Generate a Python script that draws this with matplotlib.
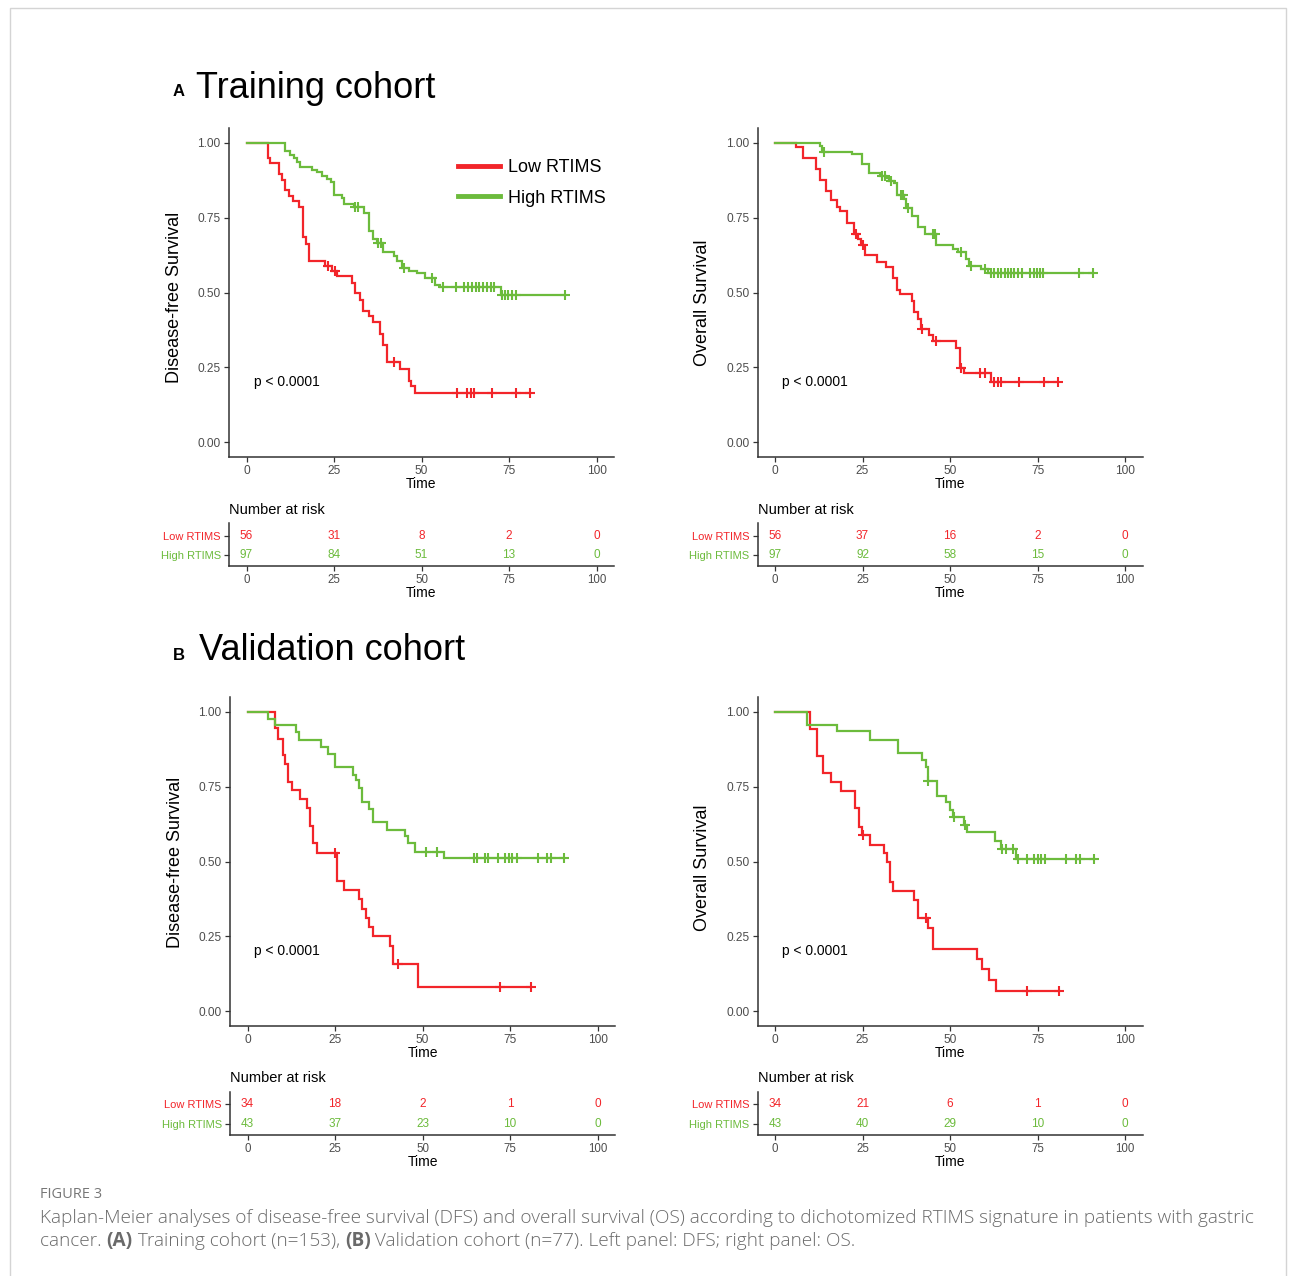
import numpy as np
import matplotlib
matplotlib.use("Agg")
import matplotlib.pyplot as plt
from matplotlib.patches import Rectangle
from matplotlib.lines import Line2D

# ---------------- data ----------------
group_labels = ["Low RTIMS", "High RTIMS"]
risk_times = [0, 25, 50, 75, 100]
x_ticks = [0, 25, 50, 75, 100]
y_ticks = [0.0, 0.25, 0.5, 0.75, 1.0]
y_ticklabels = ["0.00", "0.25", "0.50", "0.75", "1.00"]

# Training cohort, DFS
a_dfs_low_t = [0, 6, 6.8, 9.2, 10.2, 11.1, 12.1, 13.2, 15.1, 16.2, 17.1, 17.9, 22.5, 24.5, 25.9,
               30.1, 31.1, 32.5, 33.2, 35.1, 36.1, 38.2, 39.0, 40.1, 43.9, 46.3, 47.0, 48.2]
a_dfs_low_s = [1.0, 0.949, 0.932, 0.896, 0.876, 0.843, 0.824, 0.807, 0.787, 0.684, 0.662, 0.606, 0.589, 0.571, 0.554,
               0.533, 0.5, 0.474, 0.439, 0.42, 0.4, 0.36, 0.324, 0.268, 0.245, 0.204, 0.1875, 0.163]
a_dfs_low_c = [23.2, 25.3, 42, 60, 63, 64, 65, 70, 77, 81]
a_dfs_high_t = [0, 10.9, 11.1, 12.3, 13.5, 14.4, 15.4, 18.7, 20.2, 21.5, 23.0, 24.0, 24.9, 27.3, 27.9,
                30.6, 33.7, 35.1, 36.0, 37.4, 39.0, 42.0, 43.0, 44.5, 46.3, 48.7, 51.0, 53.9, 55.3, 72.6]
a_dfs_high_s = [1.0, 0.991, 0.972, 0.961, 0.949, 0.9375, 0.918, 0.911, 0.902, 0.89, 0.879, 0.868, 0.826, 0.815, 0.796,
                0.785, 0.766, 0.706, 0.679, 0.665, 0.636, 0.623, 0.606, 0.583, 0.573, 0.564, 0.55, 0.526, 0.517, 0.493]
a_dfs_high_c = [31, 31.8, 37.6, 38.3, 45, 53, 56, 59.9, 62.2, 63.4, 64.5, 65.6, 66.5, 67.5, 68.6, 69.8, 70.8,
                72.9, 73.9, 74.8, 75.8, 77.0, 91]

# Training cohort, OS
a_os_low_t = [0, 5.9, 8.1, 11.7, 12.8, 14.7, 16.0, 17.6, 18.7, 20.6, 22.6, 23.8, 24.7, 25.7, 29.0, 31.8,
              33.7, 34.9, 35.8, 39.0, 39.7, 40.9, 41.8, 44.0, 45.2, 51.8, 52.8, 53.9, 61.8]
a_os_low_s = [1.0, 0.985, 0.949, 0.913, 0.876, 0.84, 0.809, 0.787, 0.771, 0.734, 0.695, 0.679, 0.658, 0.625, 0.603, 0.584,
              0.547, 0.509, 0.494, 0.472, 0.435, 0.413, 0.377, 0.358, 0.338, 0.316, 0.249, 0.23, 0.201]
a_os_low_c = [23, 25, 42, 46, 53.2, 58.5, 59.9, 62.7, 63.7, 64.6, 69.7, 76.8, 80.8]
a_os_high_t = [0, 12.8, 13.3, 21.9, 24.9, 26.9, 29.9, 31.7, 32.6, 33.9, 34.9, 36.9, 37.4, 39.0, 40.9,
               42.9, 46.1, 50.9, 52.3, 54.7, 55.4, 58.9, 60.8]
a_os_high_s = [1.0, 0.991, 0.971, 0.963, 0.929, 0.9, 0.89, 0.882, 0.874, 0.865, 0.826, 0.8125, 0.781, 0.757, 0.718,
               0.695, 0.658, 0.647, 0.634, 0.612, 0.589, 0.578, 0.565]
a_os_high_c = [14, 30.5, 31.3, 33, 36, 36.6, 38, 45, 45.6, 53, 56, 60, 61.8, 62.7, 63.7, 64.6, 65.6, 66.5, 67.5,
               68.4, 69.4, 70.6, 72.9, 73.9, 74.8, 75.8, 76.7, 86.8, 90.8]

# Validation cohort, DFS
b_dfs_low_t = [0, 7.9, 8.8, 10.1, 10.8, 11.7, 12.8, 15.0, 17.1, 17.9, 18.8, 19.8, 25.5, 27.7, 31.9,
               32.6, 33.9, 34.8, 35.8, 40.7, 41.5, 48.8]
b_dfs_low_s = [1.0, 0.946, 0.911, 0.855, 0.827, 0.766, 0.738, 0.709, 0.679, 0.62, 0.561, 0.53, 0.436, 0.405, 0.374,
               0.342, 0.3125, 0.282, 0.251, 0.218, 0.157, 0.081]
b_dfs_low_c = [25, 43, 72, 81]
b_dfs_high_t = [0, 5.8, 7.9, 13.9, 14.7, 20.9, 22.9, 25.0, 30.0, 30.9, 31.9, 32.6, 34.8, 35.8, 39.8,
                45.0, 45.9, 47.9, 56.0]
b_dfs_high_s = [1.0, 0.977, 0.956, 0.932, 0.907, 0.884, 0.86, 0.816, 0.79, 0.771, 0.746, 0.70, 0.676, 0.631, 0.606,
                0.584, 0.561, 0.533, 0.511]
b_dfs_high_c = [51, 54, 64.7, 65.7, 67.8, 68.8, 71.6, 73.7, 74.8, 75.7, 76.9, 82.9, 85.6, 86.7, 90.5]

# Validation cohort, OS
b_os_low_t = [0, 10, 11.9, 13.8, 15.9, 18.8, 22.9, 24.0, 24.9, 27.0, 31.0, 31.9, 32.9, 33.8, 39.7, 40.8,
              43.8, 45.0, 57.8, 59.0, 61.0, 63.0]
b_os_low_s = [1.0, 0.943, 0.854, 0.796, 0.765, 0.737, 0.679, 0.617, 0.588, 0.556, 0.528, 0.497, 0.433, 0.403, 0.372, 0.31,
              0.277, 0.208, 0.173, 0.14, 0.104, 0.068]
b_os_low_c = [25.2, 43, 72, 81]
b_os_high_t = [0, 9.05, 17.8, 27.0, 35.0, 41.9, 43.0, 43.6, 46.2, 48.8, 50.0, 50.9, 54.0, 54.8, 62.9, 64.6, 68.9]
b_os_high_s = [1.0, 0.955, 0.9375, 0.907, 0.863, 0.838, 0.815, 0.768, 0.72, 0.6975, 0.673, 0.648, 0.623, 0.597, 0.57,
               0.541, 0.509]
b_os_high_c = [43.8, 51.2, 54.4, 64.9, 65.9, 67.9, 69.3, 71.9, 74.1, 75.0, 76.0, 77.0, 83.1, 86.0, 87.0, 91.0]

# numbers at risk
a_dfs_risk_low = [56, 31, 8, 2, 0]
a_dfs_risk_high = [97, 84, 51, 13, 0]
a_os_risk_low = [56, 37, 16, 2, 0]
a_os_risk_high = [97, 92, 58, 15, 0]
b_dfs_risk_low = [34, 18, 2, 1, 0]
b_dfs_risk_high = [43, 37, 23, 10, 0]
b_os_risk_low = [34, 21, 6, 1, 0]
b_os_risk_high = [43, 40, 29, 10, 0]

# ---------------- style ----------------
RED = "#F2252A"
GREEN = "#6CBB3C"
FONT = "Liberation Sans"
TICKC = "#4D4D4D"

W, H = 1295, 1276
plt.rcParams["font.family"] = FONT
fig = plt.figure(figsize=(W / 100, H / 100), dpi=100)


def px_axes(x0, y0, x1, y1):
    return fig.add_axes([x0 / W, 1 - y1 / H, (x1 - x0) / W, (y1 - y0) / H])


def style_axes(ax):
    for s in ["top", "right"]:
        ax.spines[s].set_visible(False)
    for s in ["left", "bottom"]:
        ax.spines[s].set_linewidth(1.1)
        ax.spines[s].set_color("#333333")
    ax.tick_params(length=3.5, width=0.9, color="#333333", labelcolor=TICKC, labelsize=8.6, pad=2.5)


def surv_at(times, surv, t):
    idx = np.searchsorted(np.asarray(times), t, side="right") - 1
    return surv[idx]


def draw_km(ax, t, s, cens, color):
    end = max(cens)
    tt = list(t) + [end]
    ss = list(s) + [s[-1]]
    ax.step(tt, ss, where="post", color=color, lw=1.6, solid_joinstyle="miter")
    cy = [surv_at(t, s, c) for c in cens]
    ax.plot(cens, cy, ls="none", marker="+", ms=7.5, mew=1.5, color=color)


def km_panel(x0, y0, ylabel, ylab_y, low, high, show_legend=False):
    ax = px_axes(x0, y0, x0 + 385, y0 + 329)
    style_axes(ax)
    draw_km(ax, *low, RED)
    draw_km(ax, *high, GREEN)
    ax.set_xlim(-5, 105)
    ax.set_ylim(-0.05, 1.05)
    ax.set_xticks(x_ticks)
    ax.set_yticks(y_ticks)
    ax.set_yticklabels(y_ticklabels)
    ax.set_xlabel("Time", fontsize=10, color="black", labelpad=0)
    ax.set_ylabel(ylabel, fontsize=13, color="black")
    ax.yaxis.set_label_coords(-0.12, ylab_y)
    ax.text(2, 0.2, "p < 0.0001", fontsize=10, ha="left", va="center", color="black")
    if show_legend:
        handles = [Line2D([], [], color=RED, lw=3.5), Line2D([], [], color=GREEN, lw=3.5)]
        ax.legend(handles, group_labels, loc="upper left", bbox_to_anchor=(0.595, 0.905),
                  frameon=False, fontsize=13, handlelength=2.3, handletextpad=0.45,
                  labelspacing=0.75, borderpad=0, borderaxespad=0)
    return ax


def risk_table(x0, y0, low_counts, high_counts):
    ax = px_axes(x0, y0, x0 + 385, y0 + 43)
    style_axes(ax)
    ax.set_xlim(-5, 105)
    ax.set_ylim(0.43, 2.66)
    ax.set_xticks(x_ticks)
    ax.set_yticks([2, 1])
    ax.set_yticklabels(group_labels)
    for lab, c in zip(ax.get_yticklabels(), [RED, GREEN]):
        lab.set_color(c)
    ax.tick_params(axis="y", labelsize=8)
    ax.tick_params(axis="x", labelsize=8.3)
    for xv, n in zip(risk_times, low_counts):
        ax.text(xv, 2, str(n), color=RED, fontsize=8.5, ha="center", va="center")
    for xv, n in zip(risk_times, high_counts):
        ax.text(xv, 1, str(n), color=GREEN, fontsize=8.5, ha="center", va="center")
    ax.set_xlabel("Time", fontsize=10, color="black", labelpad=0)
    ax.text(0.0, 1.15, "Number at risk", transform=ax.transAxes, fontsize=10.5,
            ha="left", va="bottom", color="black")
    return ax


# Panel A
km_panel(229, 128, "Disease-free Survival", 0.485, (a_dfs_low_t, a_dfs_low_s, a_dfs_low_c),
         (a_dfs_high_t, a_dfs_high_s, a_dfs_high_c), show_legend=True)
km_panel(757.5, 128, "Overall Survival", 0.47, (a_os_low_t, a_os_low_s, a_os_low_c),
         (a_os_high_t, a_os_high_s, a_os_high_c))
risk_table(229, 523, a_dfs_risk_low, a_dfs_risk_high)
risk_table(757.5, 523, a_os_risk_low, a_os_risk_high)

# Panel B
km_panel(230, 697, "Disease-free Survival", 0.498, (b_dfs_low_t, b_dfs_low_s, b_dfs_low_c),
         (b_dfs_high_t, b_dfs_high_s, b_dfs_high_c))
km_panel(757.5, 697, "Overall Survival", 0.48, (b_os_low_t, b_os_low_s, b_os_low_c),
         (b_os_high_t, b_os_high_s, b_os_high_c))
risk_table(230, 1091.5, b_dfs_risk_low, b_dfs_risk_high)
risk_table(757.5, 1091.5, b_os_risk_low, b_os_risk_high)

# Section headers
fig.text(179 / W, 1 - 91 / H, "A", fontsize=12, fontweight="bold", ha="center", va="center")
fig.text(196 / W, 1 - 88 / H, "Training cohort", fontsize=26, ha="left", va="center")
fig.text(179 / W, 1 - 655 / H, "B", fontsize=12, fontweight="bold", ha="center", va="center")
fig.text(199 / W, 1 - 651 / H, "Validation cohort", fontsize=26, ha="left", va="center")

# Border
fig.patches.append(Rectangle((9.5 / W, 1 - 1300 / H), (1285.5 - 9.5) / W, (1300 - 7.5) / H,
                             transform=fig.transFigure, fill=False, edgecolor="#d4d4d4", lw=1.0))

# Caption
CAP = "Open Sans"
CAPC = "#6a6a6a"
fig.text(40 / W, 1 - 1194 / H, "FIGURE 3", fontsize=10.5, family=CAP, color="#777777", ha="left", va="center")

renderer = fig.canvas.get_renderer()


def rich_line(x_px, y_px, segments, size):
    x = x_px
    for txt, bold in segments:
        t = fig.text(x / W, 1 - y_px / H, txt, fontsize=size, family=CAP, color=CAPC,
                     fontweight="bold" if bold else "light", ha="left", va="center")
        bb = t.get_window_extent(renderer=renderer)
        x += bb.width
    return x


cap_size = 12.6
line1 = [("Kaplan-Meier analyses of disease-free survival (DFS) and overall survival (OS) according "
          "to dichotomized RTIMS signature in patients with gastric", False)]
probe = fig.text(0, 0, line1[0][0], fontsize=cap_size, family=CAP, fontweight="light")
pw = probe.get_window_extent(renderer=renderer).width
probe.remove()
cap_size = cap_size * (1258 - 40) / pw

rich_line(40, 1218, line1, cap_size)
rich_line(40, 1241, [("cancer. ", False), ("(A)", True), (" Training cohort (n=153), ", False), ("(B)", True),
                     (" Validation cohort (n=77). Left panel: DFS; right panel: OS.", False)], cap_size)

fig.savefig("out.png", dpi=100)
